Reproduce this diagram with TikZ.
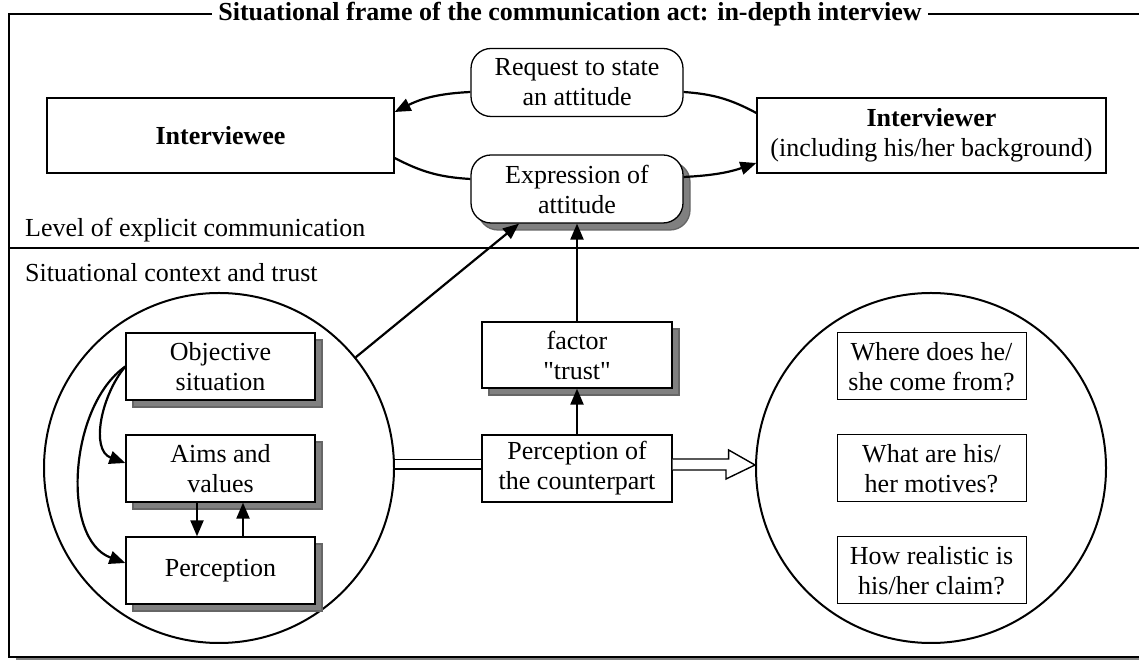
\documentclass[tikz,border=0pt]{standalone}
\usepackage{fontspec}
\setmainfont{Liberation Serif}
\newfontfamily\straightquotes{Liberation Serif}
\usetikzlibrary{arrows.meta,shadows}

\begin{document}
\begin{tikzpicture}[x=1pt,y=1pt,
    every node/.style={font=\fontsize{26}{30}\selectfont, align=center, inner sep=0pt},
    box/.style={draw, line width=1.3pt, fill=white, minimum width=189pt, minimum height=67pt},
    shadowbox/.style={box, drop shadow={shadow xshift=7pt, shadow yshift=-7pt, fill=gray, draw=black!60, opacity=1}},
    roundbox/.style={box, rounded corners=20pt, minimum width=212pt, minimum height=68pt},
    ring/.style={circle, draw, line width=2pt, minimum size=350pt},
    conn/.style={line width=2.2pt, -{Triangle[length=16pt,width=13pt]}},
    link/.style={line width=2.2pt}]
    \useasboundingbox (0,0) rectangle (1139,660);

    % Frame of the whole act, with its shadow at the bottom
    \draw[gray, line width=3pt] (16,1.5) -- (1139,1.5);
    \draw[line width=1.5pt] (1139,646) -- (9,646) -- (9,3) -- (1139,3);
    \node[fill=white, inner xsep=6pt] (title) at (570,646) {\textbf{Situational frame of the communication act: in-depth interview}};

    % Line between the two levels
    \draw[line width=1.5pt] (9,412) -- (1139,412);
    \node[anchor=west] (lvl) at (25,430) {Level of explicit communication};
    \node[anchor=west] (ctx) at (25,387) {Situational context and trust};

    % Upper level: the two partners and what goes between them
    \node[box, minimum width=347pt, minimum height=75pt] (ee) at (220.5,524.5) {\textbf{Interviewee}};
    \node[box, minimum width=349pt, minimum height=75pt] (er) at (931.5,524.5) {\textbf{Interviewer}\\(including his/her background)};
    \node[roundbox] (req) at (577,577.5) {Request to state\\an attitude};
    \node[roundbox, drop shadow={shadow xshift=7pt, shadow yshift=-7pt, fill=gray, draw=black!60, opacity=1}] (expr) at (577,471) {Expression of\\attitude};

    \draw[conn] ([yshift=-9.5pt]req.west) to[bend right=12] ([yshift=23.5pt]ee.east);
    \draw[link] ([yshift=-22.5pt]ee.east) to[bend right=12] ([yshift=10pt]expr.west);
    \draw[link] ([yshift=-9.5pt]req.east) to[bend left=12] ([yshift=22.5pt]er.west);
    \draw[conn] ([yshift=12pt]expr.east) to[bend right=8] ([yshift=-27.5pt]er.west);

    % Lower level: the two circles
    \node[ring] (lc) at (219,192) {};
    \node[ring] (rc) at (931,192) {};

    % Boxes in the left circle
    \node[shadowbox] (obj) at (220.5,293.5) {Objective\\situation};
    \node[shadowbox] (aims) at (220.5,191.5) {Aims and\\values};
    \node[shadowbox] (perc) at (220.5,89.5) {Perception};

    \draw[conn] ([xshift=-23.5pt]aims.south) -- ([xshift=-23.5pt]perc.north);
    \draw[conn] ([xshift=22.5pt]perc.north) -- ([xshift=22.5pt]aims.south);
    \draw[conn] (obj.west) to[out=230,in=160] ([yshift=5.5pt]aims.west);
    \draw[conn] (obj.west) to[out=215,in=160,looseness=0.9] ([yshift=7.5pt]perc.west);

    % Middle column
    \node[shadowbox, minimum width=190pt, minimum height=66pt] (trust) at (577,305) {factor\\{\straightquotes"}trust{\straightquotes"}};
    \node[box, minimum width=190pt] (cp) at (577,191.5) {Perception of\\the counterpart};

    \draw[conn] (cp.north) -- (trust.south);
    \draw[conn] (trust.north) -- (expr.south);
    \draw[conn] (lc.39) -- ([xshift=-58pt]expr.south);

    % Questions in the right circle
    \node[box, line width=1pt] (q1) at (931.5,293.5) {Where does he/\\she come from?};
    \node[box, line width=1pt] (q2) at (931.5,191.5) {What are his/\\her motives?};
    \node[box, line width=1pt] (q3) at (931.5,89.5) {How realistic is\\his/her claim?};

    % Double line in and hollow arrow out
    \draw[line width=1.4pt, double, double distance=8pt] ([yshift=3.5pt]lc.east) -- ([yshift=4pt]cp.west);
    \draw[line width=1.4pt, fill=white] ([yshift=9.5pt]cp.east) -- ++(56,0) -- ++(0,9)
        -- ([yshift=3pt]rc.west) -- ++(-29,-14) -- ++(0,9) -- ([yshift=-1.5pt]cp.east);
\end{tikzpicture}
\end{document}
